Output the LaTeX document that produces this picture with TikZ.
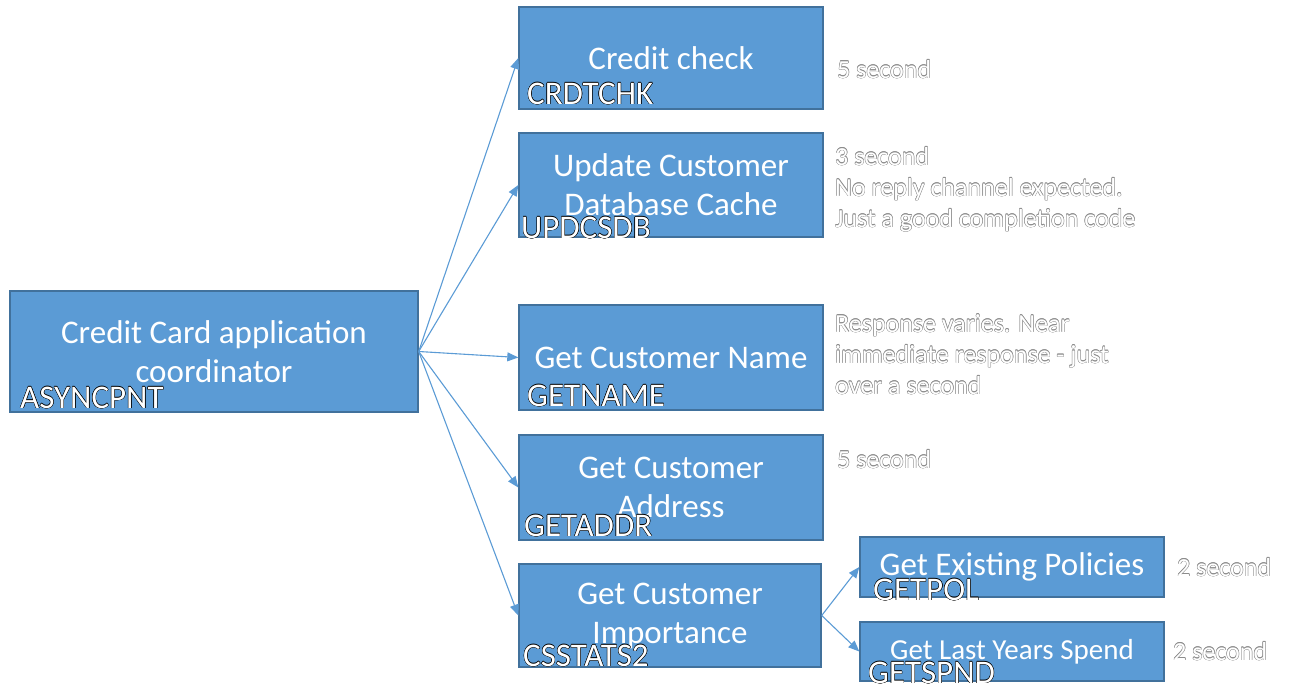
\documentclass[tikz,border=0pt]{standalone}
\usepackage{fontspec}
\setmainfont{Carlito}
\usepackage[copies]{contour}
\usetikzlibrary{arrows.meta}

\definecolor{boxblue}{HTML}{5B9BD5}
\definecolor{boxedge}{HTML}{41719C}
\contourlength{0.45pt}
\contournumber{8}

% white text with a thin dark rim
\newcommand{\codetext}[1]{\textcolor{white}{\contour{black}{#1}}}
\newcommand{\notetext}[1]{\textcolor{white}{\contour{black!45}{#1}}}

\tikzset{
  task/.style={draw=boxedge, fill=boxblue, line width=1.4pt, inner sep=0pt,
    text=white, align=center, font=\fontsize{33}{39}\selectfont},
  code/.style={anchor=west, inner sep=0pt, font=\fontsize{33}{36}\selectfont},
  note/.style={anchor=north west, inner sep=0pt, align=left,
    font=\fontsize{26}{31}\selectfont},
  link/.style={draw=boxblue, line width=1.1pt, -{Triangle[length=11pt,width=9pt]}}
}

\begin{document}
\begin{tikzpicture}[x=1pt,y=-1pt]
  \useasboundingbox (0,0) rectangle (1298,692);

  % boxes
  \node[task, minimum width=408pt, minimum height=121pt] (coord) at (214,351.5)
    {Credit Card application\\coordinator};
  \node[task, minimum width=304pt, minimum height=102pt] (chk) at (671,58)
    {Credit check};
  \node[task, minimum width=304pt, minimum height=104pt] (upd) at (671,185)
    {Update Customer\\Database Cache};
  \node[task, minimum width=304pt, minimum height=105pt] (name) at (671,357.5)
    {Get Customer Name};
  \node[task, minimum width=304pt, minimum height=105pt] (addr) at (671,487.5)
    {Get Customer\\Address};
  \node[task, minimum width=302pt, minimum height=103pt] (imp) at (670,615.5)
    {Get Customer\\Importance};
  \node[task, minimum width=304pt, minimum height=60pt] (pol) at (1012,567)
    {Get Existing Policies};
  \node[task, minimum width=304pt, minimum height=59pt, font=\fontsize{29}{33}\selectfont] (spnd) at (1012,651.5)
    {Get Last Years Spend};

  % program names
  \node[code] (lcoord) at (20,398) {\codetext{ASYNCPNT}};
  \node[code] (lchk) at (527,94) {\codetext{CRDTCHK}};
  \node[code] (lupd) at (521,228) {\codetext{UPDCSDB}};
  \node[code] (lname) at (527,396) {\codetext{GETNAME}};
  \node[code] (laddr) at (524,526) {\codetext{GETADDR}};
  \node[code] (limp) at (523,656) {\codetext{CSSTATS2}};
  \node[code] (lpol) at (873,590) {\codetext{GETPOL}};
  \node[code] (lspnd) at (868,673) {\codetext{GETSPND}};

  % timings
  \node[note] (tchk) at (837,60) {\notetext{5 second}};
  \node[note] (tupd) at (835,147) {\notetext{3 second}\\
    \notetext{No reply channel expected.}\\
    \notetext{Just a good completion code}};
  \node[note] (tname) at (835,314) {\notetext{Response varies. Near}\\
    \notetext{immediate response - just}\\
    \notetext{over a second}};
  \node[note] (taddr) at (837,450) {\notetext{5 second}};
  \node[note] (tpol) at (1177,558) {\notetext{2 second}};
  \node[note] (tspnd) at (1173,642) {\notetext{2 second}};

  % calls
  \foreach \t in {chk,upd,name,addr,imp}
    \draw[link] (coord.east) -- (\t.west);
  \draw[link] (imp.east) -- (pol.west);
  \draw[link] (imp.east) -- (spnd.west);
\end{tikzpicture}
\end{document}
